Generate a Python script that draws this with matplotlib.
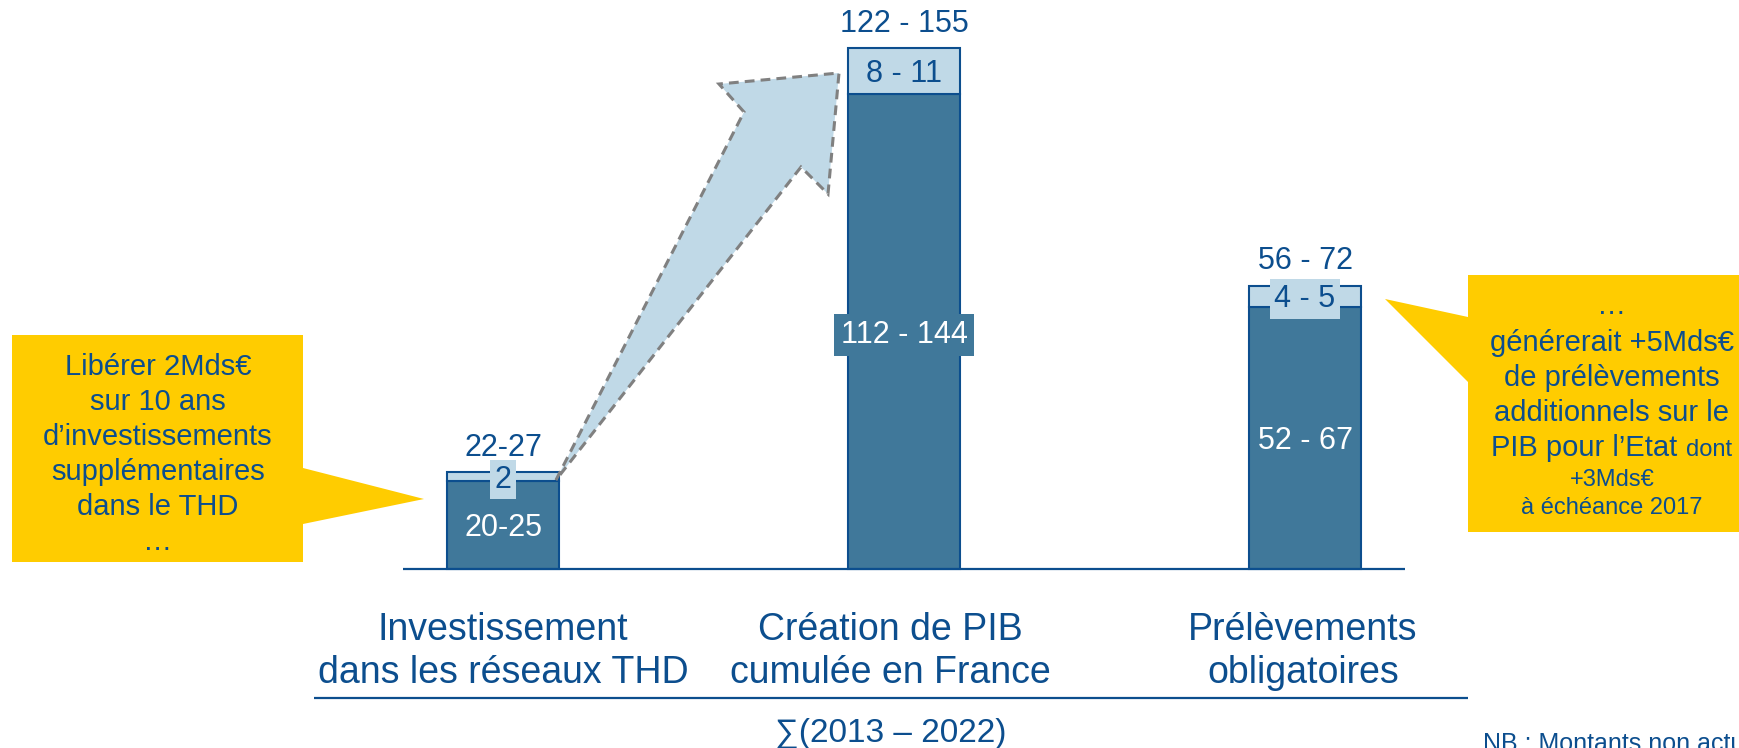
import matplotlib
matplotlib.use("Agg")
import matplotlib.pyplot as plt
from matplotlib.patches import Polygon
from matplotlib.transforms import Affine2D

plt.rcParams['font.family'] = ['Liberation Sans', 'DejaVu Sans']

# ---- data -------------------------------------------------------------
categories = ["Investissement\ndans les réseaux THD",
              "Création de PIB\ncumulée en France",
              "Prélèvements\nobligatoires"]
base_values = [21, 113, 62.5]      # lower (dark) segment, Mds€
extra_values = [2, 11, 5]          # upper (light) segment, Mds€
total_labels = ["22-27", "122 - 155", "56 - 72"]
base_labels = ["20-25", "112 - 144", "52 - 67"]
extra_labels = ["2", "8 - 11", "4 - 5"]
period_label = "∑(2013 – 2022)"
left_note = ["Libérer 2Mds€", "sur 10 ans", "d’investissements",
             "supplémentaires", "dans le THD", "…"]
right_note_big = ["…", "générerait +5Mds€", "de prélèvements",
                  "additionnels sur le"]
right_note_mixed = ("PIB pour l’Etat", "dont")
right_note_small = ["+3Mds€", "à échéance 2017"]
footnote = "NB : Montants non actualisés"

# ---- style ------------------------------------------------------------
NAVY = "#0C4E8E"
BAR = "#40789A"
LIGHT = "#C0D9E7"
YELLOW = "#FFCC00"
GREY = "#808080"

W, H, DPI = 1740, 748, 100
fig = plt.figure(figsize=(W / DPI, H / DPI), dpi=DPI)
ax = fig.add_axes([0, 0, 1, 1])
ax.axis("off")

# x: one category = 401 px, first bar centred at 503 px
# y: 4.2 px per unit, baseline 569 px from the top
PX_PER_UNIT = 4.2
ax.set_xlim(-503 / 401, (W - 503) / 401)
ax.set_ylim(-(H - 569) / PX_PER_UNIT, 569 / PX_PER_UNIT)

# pixel coordinates measured from the top-left corner (layout helpers)
px = Affine2D().scale(1 / W, -1 / H).translate(0, 1) + fig.transFigure

xs = list(range(len(categories)))
bw = 0.28

ax.bar(xs, base_values, width=bw, color=BAR, edgecolor=NAVY, linewidth=1.5, zorder=2)
ax.bar(xs, extra_values, bottom=base_values, width=bw, color=LIGHT,
       edgecolor=NAVY, linewidth=1.5, zorder=2)

# baseline
ax.plot([xs[0] - 0.25, xs[-1] + 0.25], [0, 0], color=NAVY, lw=1.6, zorder=2,
        solid_capstyle="butt")

VSIZE = 22
cap_shift = -0.716 * VSIZE / 2
text_px = VSIZE * DPI / 72 * 1.3   # approximate label box height in pixels
for x, b, e, tl, bl, el in zip(xs, base_values, extra_values,
                                total_labels, base_labels, extra_labels):
    ax.annotate(tl, (x, b + e), xytext=(0, 12), textcoords="offset points",
                ha="center", va="baseline", fontsize=VSIZE, color=NAVY, zorder=5)
    # thin segments get a backing box so the label reads over the outline
    thin = e * PX_PER_UNIT < text_px
    ax.annotate(el, (x, b + e / 2), xytext=(0, cap_shift), textcoords="offset points",
                ha="center", va="baseline", fontsize=VSIZE, color=NAVY, zorder=5,
                bbox=dict(boxstyle="square,pad=0.15", fc=LIGHT, ec="none") if thin else None)
    ax.annotate(bl, (x, b / 2), xytext=(0, cap_shift), textcoords="offset points",
                ha="center", va="baseline", fontsize=VSIZE, color="white", zorder=5,
                bbox=dict(boxstyle="square,pad=0.2", fc=BAR, ec="none"))

# block arrow from the investment bar to the GDP bar
arrow = Polygon([(556, 480), (744, 112), (719, 84), (839, 73), (828, 194),
                 (801, 167)], closed=True, transform=px, facecolor=LIGHT,
                edgecolor=GREY, linewidth=2.2, linestyle=(0, (3.2, 2.0)),
                zorder=4, clip_on=False)
ax.add_patch(arrow)

# callouts
left_callout = Polygon([(12, 335), (303, 335), (303, 468), (424, 499), (303, 524),
                        (303, 562), (12, 562)], closed=True, transform=px,
                       facecolor=YELLOW, edgecolor="none", zorder=3, clip_on=False)
ax.add_patch(left_callout)
for i, line in enumerate(left_note):
    ax.text(158, 375 + 35 * i, line, transform=px, ha="center", va="baseline",
            fontsize=21, color=NAVY, zorder=6)

right_callout = Polygon([(1468, 275), (1740, 275), (1740, 532), (1468, 532),
                         (1468, 382), (1385, 299), (1468, 317)], closed=True,
                        transform=px, facecolor=YELLOW, edgecolor="none",
                        zorder=3, clip_on=False)
ax.add_patch(right_callout)
cx = 1612
for y, line in zip([314, 351, 386, 421], right_note_big):
    ax.text(cx, y, line, transform=px, ha="center", va="baseline",
            fontsize=21, color=NAVY, zorder=6)
renderer = fig.canvas.get_renderer()
t_big = ax.text(0, 456, right_note_mixed[0], transform=px, ha="left",
                va="baseline", fontsize=21, color=NAVY, zorder=6)
t_small = ax.text(0, 456, right_note_mixed[1], transform=px, ha="left",
                  va="baseline", fontsize=17, color=NAVY, zorder=6)
w_big = t_big.get_window_extent(renderer).width
w_small = t_small.get_window_extent(renderer).width
gap = 0.3 * 21 * DPI / 72
x0 = cx - (w_big + gap + w_small) / 2
t_big.set_x(x0)
t_small.set_x(x0 + w_big + gap)
for y, line in zip([486, 514], right_note_small):
    ax.text(cx, y, line, transform=px, ha="center", va="baseline",
            fontsize=17, color=NAVY, zorder=6)

# category labels
label_x = [503, 890, 1303]
for lx, cat in zip(label_x, categories):
    for j, line in enumerate(cat.split("\n")):
        ax.text(lx, 640 + 43 * j, line, transform=px, ha="center",
                va="baseline", fontsize=27, color=NAVY)

# period bracket
ax.plot([314, 1468], [698, 698], transform=px, color=NAVY, lw=1.6,
        clip_on=False, solid_capstyle="butt")
ax.text(891, 742, period_label, transform=px, ha="center", va="baseline",
        fontsize=24, color=NAVY)

ax.text(1483, 751, footnote, transform=px, ha="left", va="baseline",
        fontsize=18, color=NAVY, clip_on=False)

fig.savefig("out.png", dpi=DPI)
